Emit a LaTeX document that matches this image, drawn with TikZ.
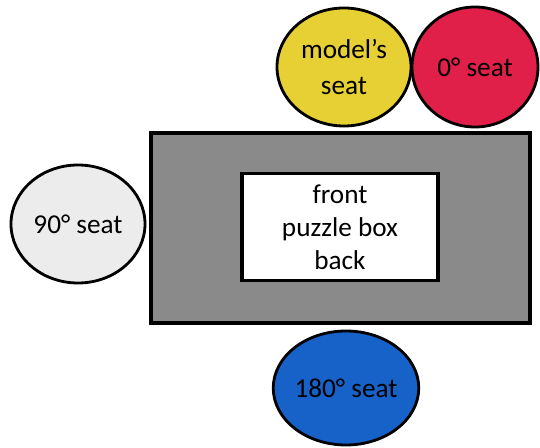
\documentclass[tikz,border=0pt]{standalone}
\usepackage{fontspec}
\setmainfont{Carlito}
\usepackage{tikz}
\usetikzlibrary{shapes.geometric}
\definecolor{seatyellow}{RGB}{231, 208, 52}
\definecolor{seatred}{RGB}{224, 32, 72}
\definecolor{seatblue}{RGB}{22, 98, 200}
\definecolor{seatgrey}{RGB}{236, 236, 236}
\definecolor{tablegrey}{RGB}{138, 138, 138}
\tikzset{%
    seat/.style={%
        ellipse, draw=black, line width=1.6pt, inner sep=0pt,
        align=center, font=\fontsize{15.5}{20.5}\selectfont
    },
    boxlabel/.style={%
        draw=black, line width=2pt, fill=white, inner sep=0pt,
        align=center, font=\fontsize{15.5}{18.8}\selectfont
    }
}

\begin{document}
\begin{tikzpicture}[x=0.02cm, y=-0.02cm]

    \useasboundingbox (0, 0) rectangle (540, 448);

    \draw[fill=tablegrey, line width=2pt] (151, 133) rectangle (530, 323);
    \node[boxlabel, minimum width=196*0.02cm, minimum height=107*0.02cm]
        (puzzle) at (340, 227) {front\\puzzle box\\back};

    \node[seat, fill=seatyellow, minimum width=134*0.02cm,
        minimum height=118*0.02cm] (model) at (344, 67) {model's\\seat};
    \node[seat, fill=seatred, minimum width=126*0.02cm,
        minimum height=120*0.02cm] (zero) at (475, 67) {0° seat};
    \node[seat, fill=seatgrey, minimum width=134*0.02cm,
        minimum height=118*0.02cm] (ninety) at (78, 224) {90° seat};
    \node[seat, fill=seatblue, minimum width=138*0.02cm,
        minimum height=114*0.02cm] (oneeighty) at (346, 388) {180° seat};

\end{tikzpicture}
\end{document}
